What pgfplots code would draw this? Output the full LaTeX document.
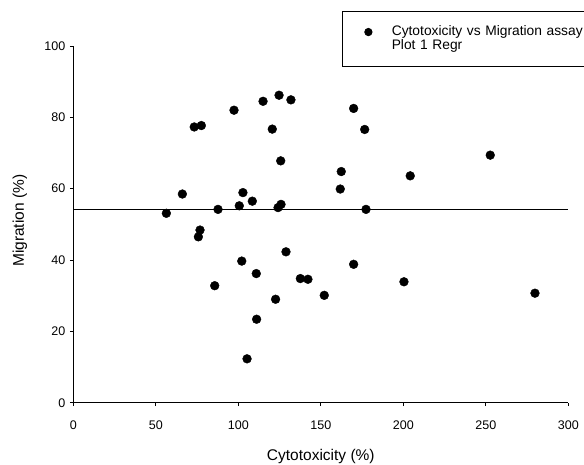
\documentclass[border=0pt]{standalone}
\usepackage{fontspec}
\setmainfont{Liberation Sans}
\usepackage{pgfplots}
\pgfplotsset{compat=1.18}
% legend picture: a single dot with room on both sides
\pgfplotsset{dotlegend/.style={legend image code/.code={
    \path (-26pt,0pt) (23pt,0pt);
    \draw[##1, mark size=3.7pt] plot coordinates {(0pt,0pt)};
}}}

\begin{document}
\begin{tikzpicture}
\begin{axis}[
  scale only axis,
  width=495pt, height=356.7pt,
  xmin=0, xmax=300, ymin=0, ymax=100,
  axis x line*=bottom, axis y line*=left,
  axis line style={black, line width=0.8pt},
  xtick={0,50,...,300}, ytick={0,20,...,100},
  tick align=outside, major tick length=3.5pt,
  tick style={black, line width=0.8pt},
  /pgf/number format/assume math mode=true,
  ticklabel style={font=\fontsize{12.5}{14}\selectfont},
  xticklabel style={yshift=-11pt},
  yticklabel style={xshift=-1pt},
  xlabel={Cytotoxicity (\%)},
  ylabel={Migration (\%)},
  label style={font=\fontsize{15.5}{18}\selectfont},
  xlabel style={at={(axis description cs:0.5,-0.152)}, anchor=center},
  ylabel style={at={(axis description cs:-0.108,0.51)}, anchor=center, rotate=0},
  clip=false,
  legend style={at={(0.542,1.098)}, anchor=north west, draw=black,
    line width=0.8pt, font=\fontsize{13.8}{15}\selectfont,
    inner xsep=0pt, inner ysep=14pt, row sep=0.5pt,
    nodes={inner sep=0pt, text height=9.9pt, text depth=3.3pt},
    /tikz/every even column/.append style={text width=202pt}},
  legend cell align=left,
]
\addplot[only marks, mark=*, mark size=4.4pt, black, dotlegend] coordinates {
  (56.4,53.1) (66.1,58.5) (73.3,77.3) (77.6,77.7) (76.8,48.4)
  (87.7,54.2) (97.4,82.0) (100.6,55.2) (102.8,58.9) (108.5,56.5)
  (115.0,84.5) (120.6,76.7) (124.7,86.2) (125.7,67.8) (124.1,54.7)
  (125.9,55.6) (131.9,84.9)
  (75.8,46.5) (85.7,32.8) (102.1,39.7) (105.3,12.3) (110.9,36.2)
  (111.1,23.4) (122.6,29.0) (128.9,42.3) (137.6,34.8) (142.2,34.6)
  (169.9,82.5) (176.6,76.6) (162.4,64.8) (161.8,59.9) (177.4,54.2)
  (204.2,63.6) (252.7,69.4)
  (152.1,30.1) (169.9,38.8) (200.4,33.9) (279.8,30.7)
};
\addlegendentry{Cytotoxicity vs Migration assay}
% flat regression line over the full x range
\addplot[black, line width=0.9pt, forget plot] coordinates {(0,54.2) (300,54.2)};
\addlegendimage{empty legend}
\addlegendentry{Plot 1 Regr}
\end{axis}
\pgfresetboundingbox
\path[use as bounding box] (current axis.south west) ++(-73.3pt,-61.3pt) rectangle ++(584pt,464pt);
\end{tikzpicture}
\end{document}
